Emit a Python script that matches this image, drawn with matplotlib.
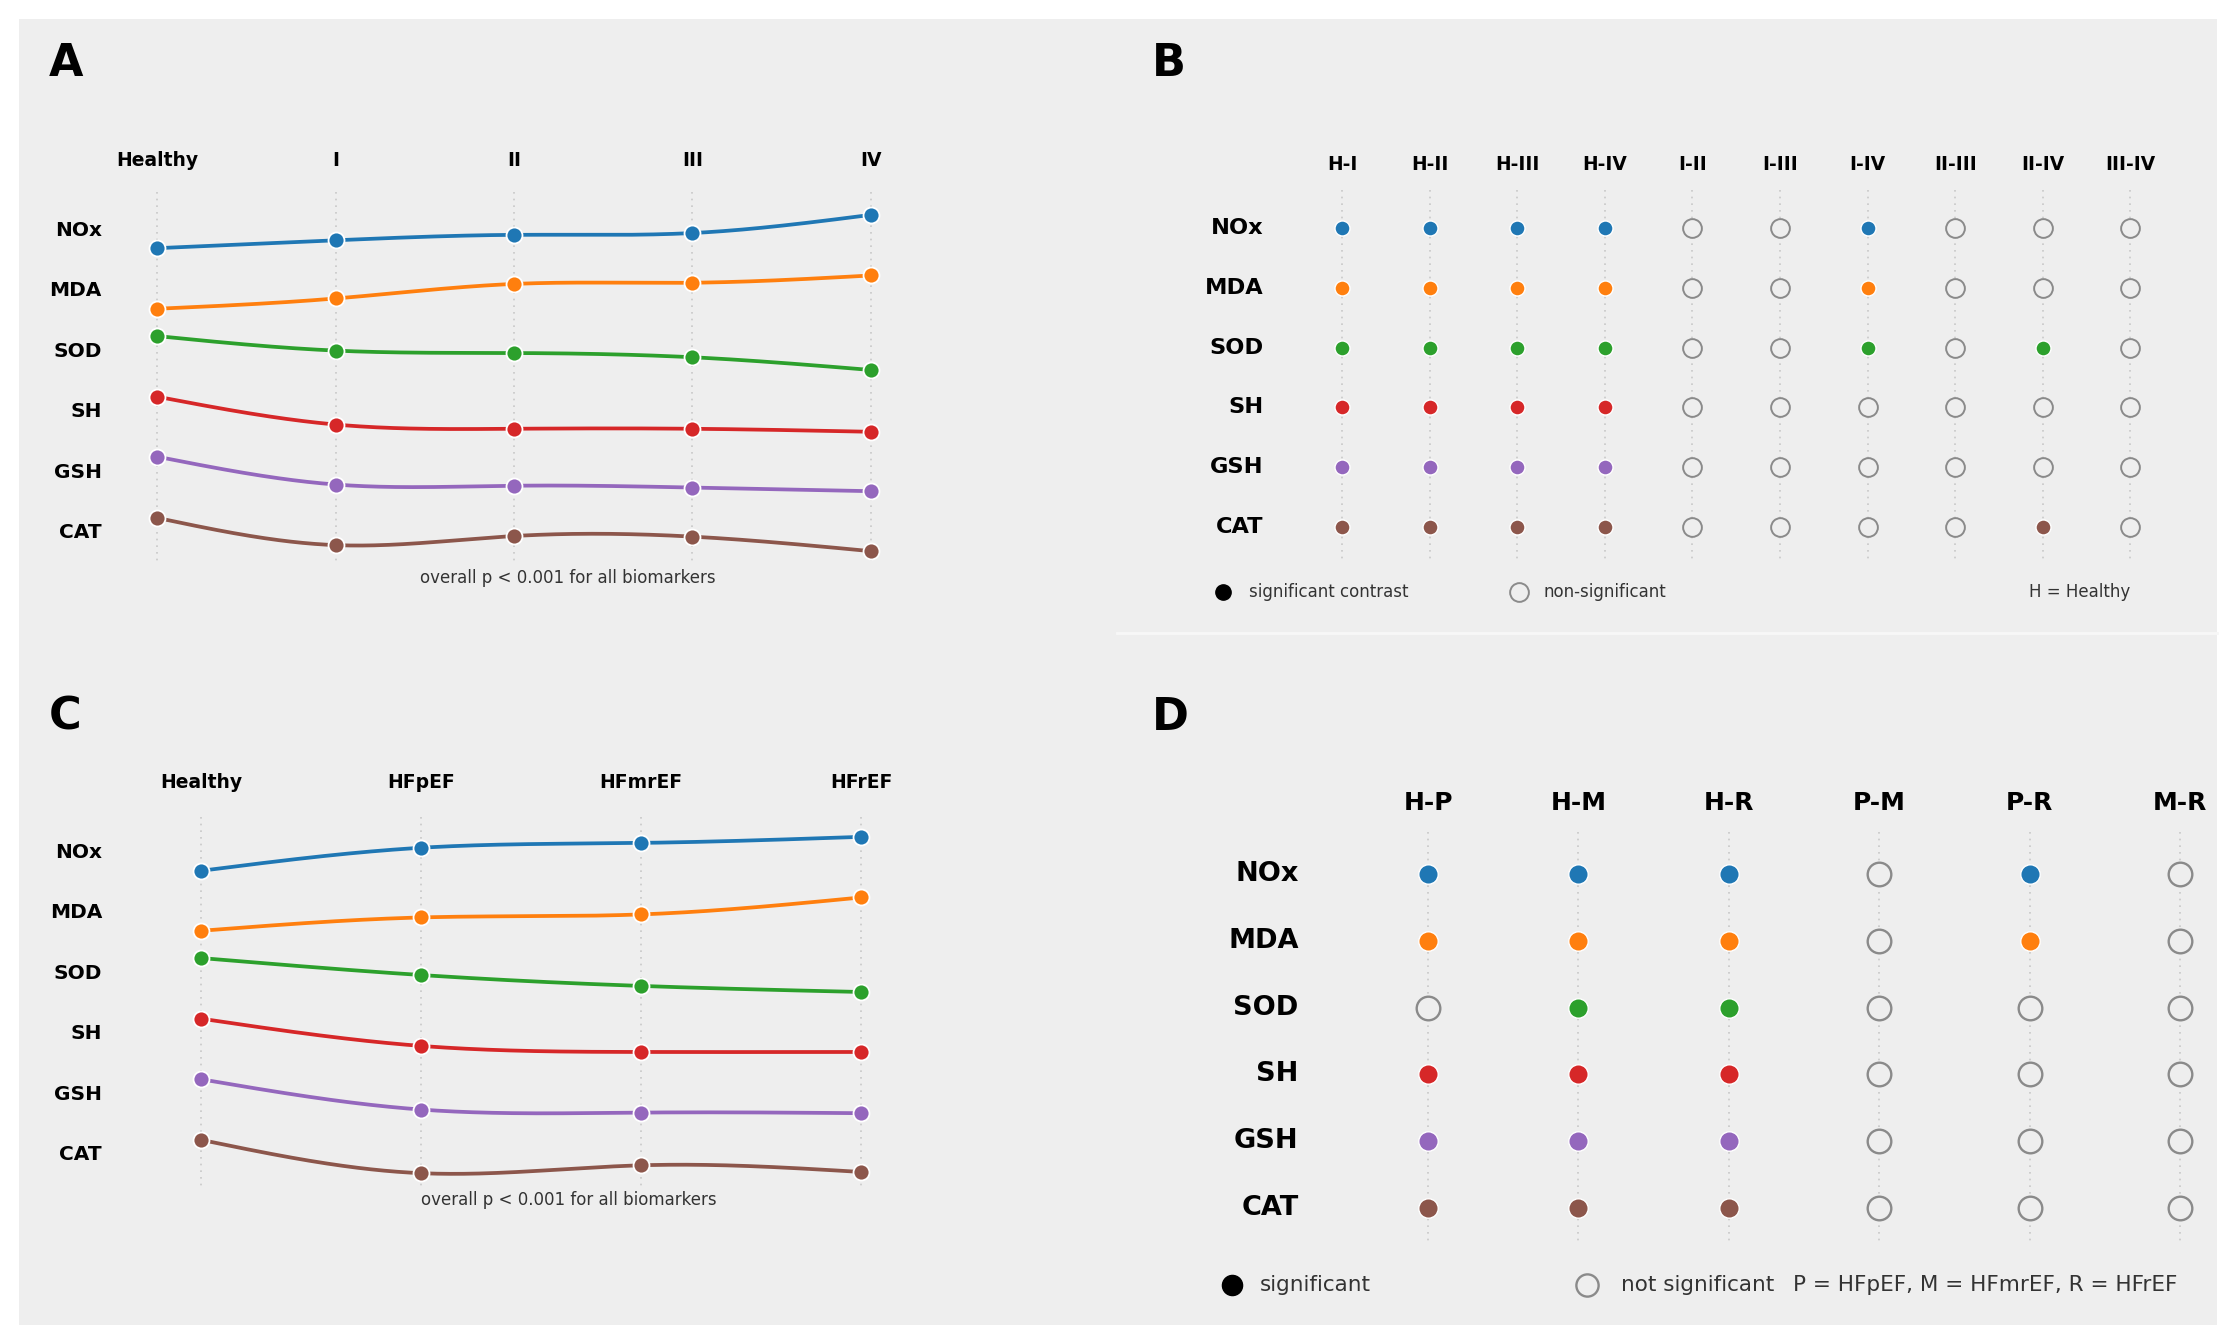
import numpy as np
import matplotlib
matplotlib.use("Agg")
import matplotlib.pyplot as plt
from matplotlib.patches import Rectangle

# ---- data ----
biomarkers = ["NOx", "MDA", "SOD", "SH", "GSH", "CAT"]
colors = ["#1f77b4", "#ff7f0e", "#2ca02c", "#d62728", "#9467bd", "#8c564b"]

# A: scaled group means by NYHA stage (row units, up = higher)
stages = ["Healthy", "I", "II", "III", "IV"]
nox_stage = [-0.30, -0.17, -0.08, -0.05, 0.25]
mda_stage = [-0.30, -0.13, 0.11, 0.13, 0.25]
sod_stage = [0.25, 0.01, -0.03, -0.10, -0.31]
sh_stage = [0.25, -0.21, -0.28, -0.28, -0.33]
gsh_stage = [0.26, -0.20, -0.22, -0.25, -0.31]
cat_stage = [0.25, -0.20, -0.05, -0.06, -0.30]

# B: pairwise contrasts between stages (1 = significant)
stage_pairs = ["H-I", "H-II", "H-III", "H-IV", "I-II", "I-III", "I-IV", "II-III", "II-IV", "III-IV"]
nox_stage_sig = [1, 1, 1, 1, 0, 0, 1, 0, 0, 0]
mda_stage_sig = [1, 1, 1, 1, 0, 0, 1, 0, 0, 0]
sod_stage_sig = [1, 1, 1, 1, 0, 0, 1, 0, 1, 0]
sh_stage_sig = [1, 1, 1, 1, 0, 0, 0, 0, 0, 0]
gsh_stage_sig = [1, 1, 1, 1, 0, 0, 0, 0, 0, 0]
cat_stage_sig = [1, 1, 1, 1, 0, 0, 0, 0, 1, 0]

# C: scaled group means by HF phenotype
phenotypes = ["Healthy", "HFpEF", "HFmrEF", "HFrEF"]
nox_pheno = [-0.31, 0.07, 0.15, 0.25]
mda_pheno = [-0.30, -0.08, -0.03, 0.25]
sod_pheno = [0.25, -0.03, -0.21, -0.31]
sh_pheno = [0.25, -0.20, -0.30, -0.30]
gsh_pheno = [0.25, -0.25, -0.30, -0.31]
cat_pheno = [0.25, -0.30, -0.17, -0.28]

# D: pairwise contrasts between phenotypes
pheno_pairs = ["H-P", "H-M", "H-R", "P-M", "P-R", "M-R"]
nox_pheno_sig = [1, 1, 1, 0, 1, 0]
mda_pheno_sig = [1, 1, 1, 0, 1, 0]
sod_pheno_sig = [0, 1, 1, 0, 0, 0]
sh_pheno_sig = [1, 1, 1, 0, 0, 0]
gsh_pheno_sig = [1, 1, 1, 0, 0, 0]
cat_pheno_sig = [1, 1, 1, 0, 0, 0]

stage_means = [nox_stage, mda_stage, sod_stage, sh_stage, gsh_stage, cat_stage]
stage_sig = [nox_stage_sig, mda_stage_sig, sod_stage_sig, sh_stage_sig, gsh_stage_sig, cat_stage_sig]
pheno_means = [nox_pheno, mda_pheno, sod_pheno, sh_pheno, gsh_pheno, cat_pheno]
pheno_sig = [nox_pheno_sig, mda_pheno_sig, sod_pheno_sig, sh_pheno_sig, gsh_pheno_sig, cat_pheno_sig]

# ---- layout ----
W, H = 2235, 1342
BG = "#eeeeee"
GRID = "#c8c8c8"

fig = plt.figure(figsize=(W / 100, H / 100), dpi=100)
fig.add_artist(Rectangle((19 / W, 1 - 1325 / H), (2217 - 19) / W, (1325 - 19) / H,
                         transform=fig.transFigure, facecolor=BG, edgecolor="none", zorder=-5))
fig.add_artist(plt.Line2D([1117 / W, 2217 / W], [1 - 633 / H, 1 - 633 / H],
                          transform=fig.transFigure, color="#f7f7f7", lw=2, zorder=-4))


def panel_axes(box, x0, dx, y0, dy):
    # box in pixels (left, top, right, bottom); column i sits at x0 + i*dx, row j at y0 + j*dy
    L, T, R, B = box
    ax = fig.add_axes([L / W, 1 - B / H, (R - L) / W, (B - T) / H])
    ax.set_xlim((L - x0) / dx, (R - x0) / dx)
    ax.set_ylim((B - y0) / dy, (T - y0) / dy)
    ax.axis("off")
    return ax


def natural_spline(x, y, num=300):
    x = np.asarray(x, float)
    y = np.asarray(y, float)
    n = len(x)
    h = np.diff(x)
    A = np.zeros((n, n))
    r = np.zeros(n)
    A[0, 0] = A[-1, -1] = 1
    for i in range(1, n - 1):
        A[i, i - 1] = h[i - 1]
        A[i, i] = 2 * (h[i - 1] + h[i])
        A[i, i + 1] = h[i]
        r[i] = 6 * ((y[i + 1] - y[i]) / h[i] - (y[i] - y[i - 1]) / h[i - 1])
    M = np.linalg.solve(A, r)
    xs = np.linspace(x[0], x[-1], num)
    k = np.clip(np.searchsorted(x, xs) - 1, 0, n - 2)
    t0 = x[k + 1] - xs
    t1 = xs - x[k]
    hk = h[k]
    ys = (M[k] * t0 ** 3 + M[k + 1] * t1 ** 3) / (6 * hk) \
        + (y[k] / hk - M[k] * hk / 6) * t0 + (y[k + 1] / hk - M[k + 1] * hk / 6) * t1
    return xs, ys


def trend_panel(ax, groups, means, head_y, label_x, grid_span, note_xy, head_fs, row_fs):
    xs = np.arange(len(groups))
    for x in xs:
        ax.plot([x, x], grid_span, color=GRID, lw=1.2, ls=(0, (1, 3)), zorder=1)
        ax.text(x, head_y, groups[x], ha="center", va="center", fontsize=head_fs, fontweight="bold")
    for j, (name, vals, c) in enumerate(zip(biomarkers, means, colors)):
        ys = j - np.asarray(vals)
        sx, sy = natural_spline(xs, ys)
        ax.plot(sx, sy, color=c, lw=2.7, solid_capstyle="round", zorder=2)
        ax.plot(xs, ys, "o", color=c, ms=11.5, mec="white", mew=1.3, zorder=3)
        ax.text(label_x, j, name, ha="right", va="center", fontsize=row_fs, fontweight="bold")
    ax.text(note_xy[0], note_xy[1], "overall p < 0.001 for all biomarkers", ha="center", va="center",
            fontsize=12, color="#333333")


def contrast_panel(ax, pairs, sig, head_y, label_x, grid_span, head_fs, row_fs, ms_on, ms_off, mew_off):
    xs = np.arange(len(pairs))
    for x in xs:
        ax.plot([x, x], grid_span, color=GRID, lw=1.2, ls=(0, (1, 3)), zorder=1)
        ax.text(x, head_y, pairs[x], ha="center", va="center", fontsize=head_fs, fontweight="bold")
    for j, (name, s, c) in enumerate(zip(biomarkers, sig, colors)):
        for x, v in zip(xs, s):
            if v:
                ax.plot(x, j, "o", color=c, ms=ms_on, mec="white", mew=1.0, zorder=3)
            else:
                ax.plot(x, j, "o", mfc=BG, mec="#8a8a8a", ms=ms_off, mew=mew_off, zorder=3)
        ax.text(label_x, j, name, ha="right", va="center", fontsize=row_fs, fontweight="bold")


# panel A
axA = panel_axes((19, 19, 1117, 632), 157, 178.5, 230, 60.6)
trend_panel(axA, stages, stage_means, -1.155, -0.31, (-0.63, 5.53), (2.30, 5.74), 13.5, 14.5)

# panel C
axC = panel_axes((19, 632, 1117, 1325), 201, 220, 852, 60.6)
trend_panel(axC, phenotypes, pheno_means, -1.14, -0.45, (-0.58, 5.51), (1.67, 5.74), 13.5, 14.5)

# panel B
axB = panel_axes((1117, 19, 2217, 632), 1342, 87.6, 228, 59.8)
contrast_panel(axB, stage_pairs, stage_sig, -1.07, -0.90, (-0.64, 5.54), 13.4, 16.2, 10.8, 13.5, 1.4)
axB.plot(-1.36, 6.08, "o", color="black", ms=11, zorder=3)
axB.text(-1.06, 6.08, "significant contrast", ha="left", va="center", fontsize=12, color="#333333")
axB.plot(2.02, 6.08, "o", mfc=BG, mec="#8a8a8a", ms=13.5, mew=1.4, zorder=3)
axB.text(2.30, 6.08, "non-significant", ha="left", va="center", fontsize=12, color="#333333")
axB.text(9.0, 6.08, "H = Healthy", ha="right", va="center", fontsize=12, color="#333333")

# panel D
axD = panel_axes((1117, 632, 2217, 1325), 1428, 150.4, 874, 66.8)
contrast_panel(axD, pheno_pairs, pheno_sig, -1.06, -0.86, (-0.63, 5.51), 18, 19.5, 14, 17, 1.7)
axD.plot(-1.30, 6.15, "o", color="black", ms=14.5, zorder=3)
axD.text(-1.12, 6.15, "significant", ha="left", va="center", fontsize=15.5, color="#333333")
axD.plot(1.06, 6.15, "o", mfc=BG, mec="#8a8a8a", ms=16, mew=1.7, zorder=3)
axD.text(1.28, 6.15, "not significant", ha="left", va="center", fontsize=15.5, color="#333333")
axD.text(2.43, 6.15, "P = HFpEF, M = HFmrEF, R = HFrEF", ha="left", va="center", fontsize=15.5,
         color="#333333")

# panel letters
for letter, (px, py) in zip("ABCD", [(49, 76), (1152, 76), (49, 730), (1152, 730)]):
    fig.text(px / W, 1 - py / H, letter, fontsize=32, fontweight="bold", ha="left", va="baseline")

fig.savefig("out.png", dpi=100, facecolor="white")
